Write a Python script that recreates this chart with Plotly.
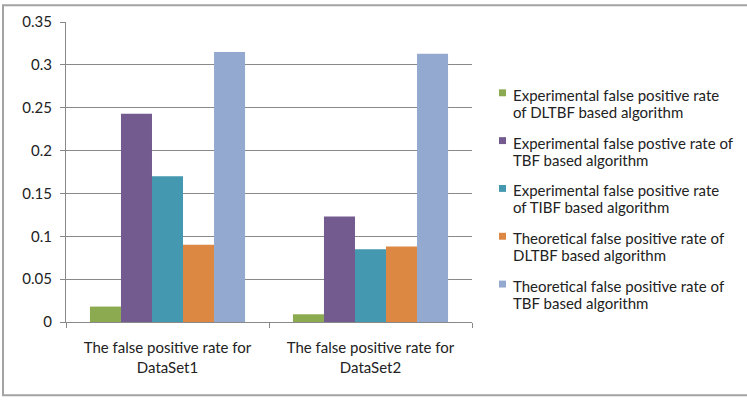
import plotly.graph_objects as go

# Categories (x axis) and series values
categories = ["The false positive rate for<br>DataSet1", "The false positive rate for<br>DataSet2"]
series_names = [
    "Experimental false positive rate<br>of DLTBF based algorithm",
    "Experimental false postive rate of<br>TBF based algorithm",
    "Experimental false positive rate<br>of TIBF based algorithm",
    "Theoretical false positive rate of<br>DLTBF based algorithm",
    "Theoretical false positive rate of<br>TBF based algorithm",
]
exp_dltbf = [0.018, 0.009]
exp_tbf = [0.243, 0.123]
exp_tibf = [0.170, 0.085]
theo_dltbf = [0.090, 0.088]
theo_tbf = [0.315, 0.313]
series_values = [exp_dltbf, exp_tbf, exp_tibf, theo_dltbf, theo_tbf]
series_colors = ["#8caa50", "#735a8f", "#4499b0", "#dc8843", "#93a9cf"]

y_ticks = [0, 0.05, 0.1, 0.15, 0.2, 0.25, 0.3, 0.35]

FONT = "Lato, 'Open Sans', sans-serif"
FS = 15
TXT = "#222222"
GRID = "#898989"

W, H = 747, 400
ML, MR, MT, MB = 66, 275, 19, 78
PW, PH = W - ML - MR, H - MT - MB


def px(x):
    """Canvas x pixel -> paper coordinate."""
    return (x - ML) / PW


def py(y):
    """Canvas y pixel -> paper coordinate."""
    return (H - MB - y) / PH


fig = go.Figure()
for name, vals, col in zip(series_names, series_values, series_colors):
    fig.add_trace(go.Bar(
        x=categories, y=vals, name=name,
        marker=dict(color=col, line=dict(width=0)),
        showlegend=False,
    ))

# Legend on the right: a small square and a two-line label per series.
# The annotation font size sets the (tight) line pitch; the span sets glyph size.
shapes = []
annotations = []
entry_step = 48.3
line_pitch_font = 12.8  # 12.8 * 1.3 ~ 16.7 px between lines
for i, (name, col) in enumerate(zip(series_names, series_colors)):
    top = 87 + entry_step * i
    shapes.append(dict(
        type="rect", xref="paper", yref="paper",
        x0=px(499), x1=px(506), y0=py(top + 7), y1=py(top),
        fillcolor=col, line=dict(width=0),
    ))
    label = "<br>".join(
        f'<span style="font-size:{FS}px">{part}</span>' for part in name.split("<br>")
    )
    annotations.append(dict(
        xref="paper", yref="paper",
        x=px(512), y=py(101 + entry_step * i),
        xanchor="left", yanchor="middle", align="left",
        text=label, showarrow=False, borderpad=0,
        font=dict(family=FONT, size=line_pitch_font, color=TXT),
    ))

# Chart-area border
shapes.append(dict(
    type="rect", xref="paper", yref="paper",
    x0=px(3), x1=px(752), y0=py(396), y1=py(2),
    line=dict(color="#a3a3a3", width=2), fillcolor="rgba(0,0,0,0)",
    layer="below",
))

fig.update_layout(
    width=W, height=H,
    margin=dict(l=ML, r=MR, t=MT, b=MB, pad=0),
    paper_bgcolor="white", plot_bgcolor="white",
    barmode="group", bargap=0.236, bargroupgap=0,
    font=dict(family=FONT, size=FS, color=TXT),
    shapes=shapes, annotations=annotations,
    showlegend=False,
)
fig.update_xaxes(
    type="category", tickson="boundaries",
    ticks="outside", ticklen=5, tickcolor=GRID,
    showline=True, linecolor=GRID, linewidth=1,
    showgrid=False, tickfont=dict(size=FS),
    ticklabelstandoff=12,
)
fig.update_yaxes(
    range=[0, 0.35], tickvals=y_ticks,
    ticktext=[f"{v:g}" for v in y_ticks],
    ticks="outside", ticklen=5, tickcolor=GRID,
    showline=True, linecolor=GRID, linewidth=1,
    showgrid=True, gridcolor=GRID, gridwidth=1,
    zeroline=False, ticklabelstandoff=5, tickfont=dict(size=FS),
)

fig.write_html("out.html")
